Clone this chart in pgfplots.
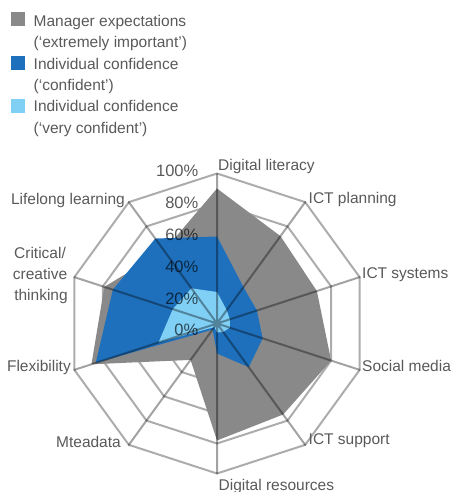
\documentclass[border=0pt]{standalone}
\usepackage{pgfplots}
\pgfplotsset{compat=1.18}
\usepgfplotslibrary{polar}
\usepackage{fontspec}
\setmainfont{Liberation Sans}
\definecolor{mgray}{RGB}{137,137,137}
\definecolor{mblue}{RGB}{30,112,188}
\definecolor{lblue}{RGB}{128,207,245}
\definecolor{gridc}{RGB}{172,172,172}
\definecolor{txt}{RGB}{89,89,89}
\begin{document}
\begin{tikzpicture}
\begin{axis}[scale only axis, width=451bp, height=492bp,
  xmin=-144.667, xmax=156, ymin=-112.333, ymax=215.667,
  hide axis, every axis plot/.append style={data cs=polar}]
% rings
\addplot[gridc, line width=2bp, line join=round] coordinates {(90,100)(54,100)(18,100)(-18,100)(-54,100)(-90,100)(-126,100)(-162,100)(-198,100)(-234,100)(90,100)};
\addplot[gridc, line width=2bp, line join=round] coordinates {(90,80)(54,80)(18,80)(-18,80)(-54,80)(-90,80)(-126,80)(-162,80)(-198,80)(-234,80)(90,80)};
\addplot[gridc, line width=2bp, line join=round] coordinates {(90,60)(54,60)(18,60)(-18,60)(-54,60)(-90,60)(-126,60)(-162,60)(-198,60)(-234,60)(90,60)};
\addplot[gridc, line width=2bp, line join=round] coordinates {(90,40)(54,40)(18,40)(-18,40)(-54,40)(-90,40)(-126,40)(-162,40)(-198,40)(-234,40)(90,40)};
\addplot[gridc, line width=2bp, line join=round] coordinates {(90,20)(54,20)(18,20)(-18,20)(-54,20)(-90,20)(-126,20)(-162,20)(-198,20)(-234,20)(90,20)};
% Manager expectations
\addplot[fill=mgray, draw=none] coordinates {(90,90)(54,72)(18,70)(-18,80)(-54,75)(-90,78)(-126,30)(-162,88)(-198,79)(-234,60)(90,90)};
% Individual confidence (confident)
\addplot[fill=mblue, draw=none] coordinates {(90,58)(54,30)(18,28)(-18,32)(-54,36)(-90,20)(-126,5)(-162,85)(-198,73)(-234,70)(90,58)};
% Individual confidence (very confident)
\addplot[fill=lblue, draw=none] coordinates {(90,21)(54,11)(18,9)(-18,9)(-54,7)(-90,6)(-126,3)(-162,41)(-198,31)(-234,29)(90,21)};
% spokes
\addplot[black, draw opacity=0.36, line width=2bp, line join=round] coordinates {(90,100)(90,0)(54,100)(54,0)(18,100)(18,0)(-18,100)(-18,0)(-54,100)(-54,0)(-90,100)(-90,0)(-126,100)(-126,0)(-162,100)(-162,0)(-198,100)(-198,0)(-234,100)(-234,0)};
\end{axis}
\begin{scope}[shift={(current axis.north west)}, x=1bp, y=-1bp]
\begin{scope}[every node/.style={inner sep=0pt, text=txt, font=\fontsize{15.5bp}{18bp}\selectfont}]
% legend
\fill[mgray] (11,12.5) rectangle (25,26.5);
\fill[mblue] (11,56.5) rectangle (25,70.5);
\fill[lblue] (11,99) rectangle (25,113);
\node[anchor=base west] at (33.5,26.7) {Manager expectations};
\node[anchor=base west] at (33.5,48) {(‘extremely important’)};
\node[anchor=base west] at (33.5,69.5) {Individual confidence};
\node[anchor=base west] at (33.5,90.8) {(‘confident’)};
\node[anchor=base west] at (33.5,112) {Individual confidence};
\node[anchor=base west] at (33.5,133.3) {(‘very confident’)};
% category labels
\node[anchor=base west] at (218,170.5) {Digital literacy};
\node[anchor=base west] at (308.5,204) {ICT planning};
\node[anchor=base west] at (362,279) {ICT systems};
\node[anchor=base west] at (362,372) {Social media};
\node[anchor=base west] at (308.5,445) {ICT support};
\node[anchor=base west] at (218.5,490.5) {Digital resources};
\node[anchor=base east] at (121,447.5) {Mteadata};
\node[anchor=base east] at (71,372) {Flexibility};
\node[anchor=base] at (40,258.5) {Critical/};
\node[anchor=base] at (40,280) {creative};
\node[anchor=base] at (41,301) {thinking};
\node[anchor=base east] at (125,205) {Lifelong learning};
\end{scope}
\begin{scope}[every node/.style={inner sep=0pt, text=black, text opacity=0.65, font=\fontsize{16.5bp}{19bp}\selectfont}]
\node[anchor=base east] at (198.5,176.7) {100\%};
\node[anchor=base east] at (198.5,208.6) {80\%};
\node[anchor=base east] at (198.5,240.5) {60\%};
\node[anchor=base east] at (198.5,272.3) {40\%};
\node[anchor=base east] at (198.5,304.2) {20\%};
\node[anchor=base east] at (198.5,336) {0\%};
\end{scope}
\end{scope}
\pgfresetboundingbox
\path[use as bounding box] (current axis.south west) rectangle (current axis.north east);
\end{tikzpicture}
\end{document}
